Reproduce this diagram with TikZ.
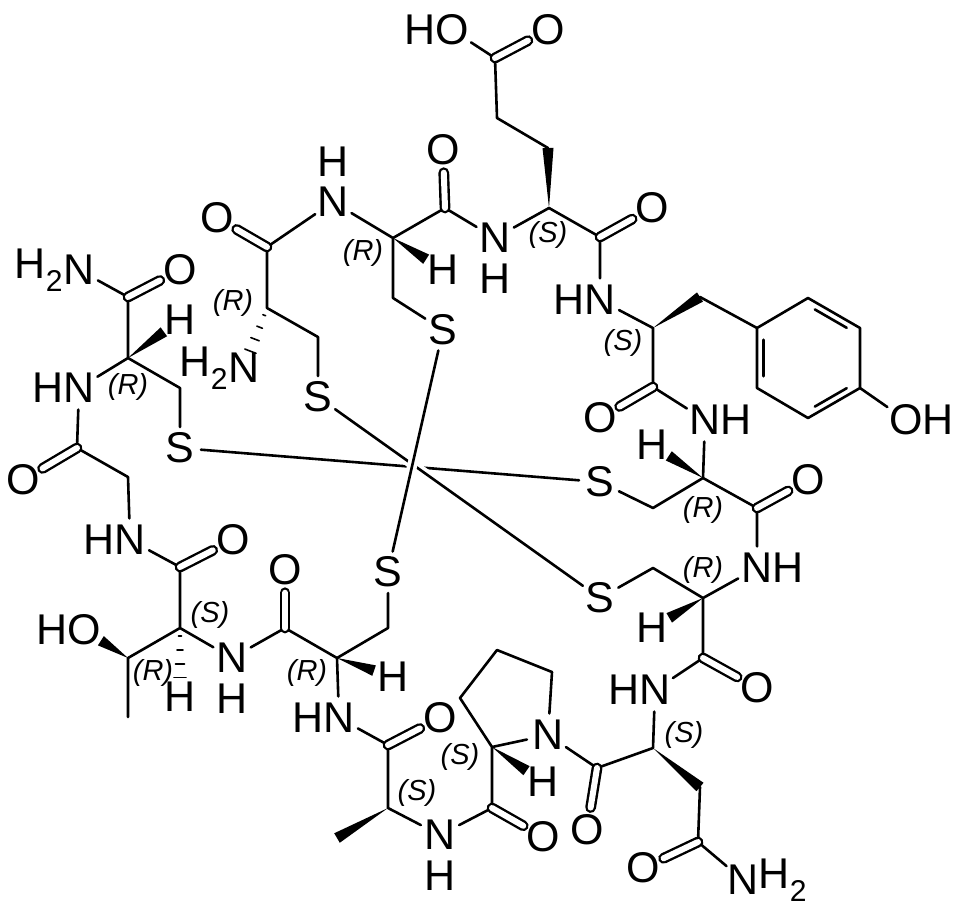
\documentclass[tikz,border=0pt]{standalone}
\usepackage{fontspec}
\setmainfont{Liberation Sans}
\usetikzlibrary{calc}

\tikzset{
  atom/.style={circle, inner sep=0pt, font=\fontsize{43}{45}\selectfont, label distance=-5pt},
  hlab/.style={inner sep=0pt, font=\fontsize{43}{45}\selectfont},
  hl/.style={label={[hlab, xshift=6pt]left:#1}},
  hr/.style={label={[hlab, xshift=-6pt]right:#1}},
  hb/.style={label={[hlab, yshift=-4pt]below:H}},
  ha/.style={label={[hlab, yshift=4pt]above:H}},
  stereo/.style={font=\fontsize{29}{30}\selectfont\itshape},
  bond/.style={line width=2.6pt},
  dbl/.style={double, double distance=6pt, line width=2.4pt},
  halo/.style={preaction={draw, white, line width=10pt}}
}
\newcommand\wdg[3][0pt]{\fill ($(#2)$) -- ($($(#3)!#1!(#2)$)!5.5pt!90:(#2)$) -- ($($(#3)!#1!(#2)$)!5.5pt!-90:(#2)$) -- cycle;}
\newcommand\hsh[2]{\foreach \t/\w in {0.12/1.5pt,0.32/3pt,0.52/4.5pt,0.72/6pt}
  {\draw[line width=1.6pt] ($($(#1)!\t!(#2)$)!\w!90:(#2)$) -- ($($(#1)!\t!(#2)$)!\w!-90:(#2)$);}}

\begin{document}
\begin{tikzpicture}[x=1pt, y=-1pt, line cap=round, line join=round]
  \useasboundingbox (0,0) rectangle (968,910);

  % hetero atoms
  \node[atom, hl=H] (oHO) at (452,30) {O};
  \node[atom] (oGlu1) at (548,30) {O};
  \node[atom, hb] (nGlu) at (495,238) {N};
  \node[atom] (oCysTop) at (443,150) {O};
  \node[atom] (hCysTop) at (443,270) {H};
  \node[atom, ha] (nCys) at (333,202) {N};
  \node[atom] (oCysN) at (217,218) {O};
  \node[atom, hl=H\textsubscript{2}] (nH2top) at (244,368) {N};
  \node[atom] (sA) at (443,330) {S};
  \node[atom] (sB) at (318,397) {S};
  \node[atom] (oGlu2) at (652,208) {O};
  \node[atom, hl=H] (nTyr) at (600,300) {N};
  \node[atom] (oTyr) at (600,418) {O};
  \node[atom, hr=H] (ohTyr) at (906,420) {O};
  \node[atom, hr=H] (nTyrNH) at (705,420) {N};
  \node[atom] (hCysR1) at (652,445) {H};
  \node[atom] (oCysR1) at (808,480) {O};
  \node[atom] (sC) at (600,482) {S};
  \node[atom, hr=H] (nCysR) at (757,568) {N};
  \node[atom] (sD) at (600,598) {S};
  \node[atom] (hCysR2) at (652,628) {H};
  \node[atom] (oCysR2) at (757,688) {O};
  \node[atom, hl=H] (nAsn) at (655,690) {N};
  \node[atom] (oAsn1) at (587,830) {O};
  \node[atom] (oAsn2) at (643,868) {O};
  \node[atom, hr=H\textsubscript{2}] (nAsnNH2) at (743,880) {N};
  \node[atom] (nPro) at (548,735) {N};
  \node[atom] (hPro) at (543,782) {H};
  \node[atom] (oPro) at (543,837) {O};
  \node[atom, hb] (nAla) at (440,835) {N};
  \node[atom] (oAla) at (440,718) {O};
  \node[atom, hl=H] (nCysL) at (339,718) {N};
  \node[atom] (hCysL) at (393,677) {H};
  \node[atom] (oCysL) at (285,570) {O};
  \node[atom] (sE) at (388,572) {S};
  \node[atom, hb] (nThr) at (232,658) {N};
  \node[atom] (hThr) at (180,697) {H};
  \node[atom, hl=H] (ohThr) at (84,630) {O};
  \node[atom] (oThr) at (233,540) {O};
  \node[atom, hl=H] (nGly) at (130,540) {N};
  \node[atom] (oGly) at (23,480) {O};
  \node[atom] (sF) at (180,448) {S};
  \node[atom, hl=H] (nCysLL) at (79,388) {N};
  \node[atom] (hCysLL) at (180,320) {H};
  \node[atom] (oCysLL) at (180,270) {O};
  \node[atom, hl=H\textsubscript{2}] (nH2LL) at (79,270) {N};

  % carbons
  \coordinate (cG1) at (495,58);   \coordinate (cG2) at (497,118);
  \coordinate (cG3) at (548,148);  \coordinate (caGlu) at (549,208);
  \coordinate (cGlu) at (600,237);
  \coordinate (cCysT) at (445,208); \coordinate (caCysT) at (393,238);
  \coordinate (cbCysT) at (393,298);
  \coordinate (cCysN) at (267,247); \coordinate (caCysN) at (267,308);
  \coordinate (cbCysN) at (318,337);
  \coordinate (caTyr) at (653,328); \coordinate (cbTyr) at (700,297);
  \coordinate (cTyr) at (653,387);
  \coordinate (r1) at (757,328); \coordinate (r2) at (808,298);
  \coordinate (r3) at (860,328); \coordinate (r4) at (860,388);
  \coordinate (r5) at (808,418); \coordinate (r6) at (757,388);
  \coordinate (rc) at (808,358);
  \coordinate (caCysR1) at (703,478); \coordinate (cbCysR1) at (653,508);
  \coordinate (cCysR1) at (757,508);
  \coordinate (caCysR2) at (703,598); \coordinate (cbCysR2) at (653,568);
  \coordinate (cCysR2) at (703,658);
  \coordinate (caAsn) at (653,748); \coordinate (cbAsn) at (700,787);
  \coordinate (cgAsn) at (698,842); \coordinate (cAsn) at (597,768);
  \coordinate (caPro) at (492,747); \coordinate (p1) at (460,698);
  \coordinate (p2) at (497,650);    \coordinate (p3) at (552,672);
  \coordinate (cPro) at (492,808);
  \coordinate (caAla) at (388,808); \coordinate (meAla) at (337,838);
  \coordinate (cAla) at (388,745);
  \coordinate (caCysL) at (337,658); \coordinate (cbCysL) at (388,628);
  \coordinate (cCysL) at (285,628);
  \coordinate (caThr) at (180,628); \coordinate (cbThr) at (128,658);
  \coordinate (meThr) at (128,717); \coordinate (cThr) at (180,567);
  \coordinate (chGly) at (128,477); \coordinate (cGly) at (77,448);
  \coordinate (caCysLL) at (128,358); \coordinate (cbCysLL) at (180,388);
  \coordinate (cCysLL) at (128,297);

  % stereo descriptors
  \node[stereo] (stGlu) at (548,235) {(S)};
  \node[stereo] (stCysT) at (363,253) {(R)};
  \node[stereo] (stCysN) at (233,303) {(R)};
  \node[stereo] (stCysLL) at (128,387) {(R)};
  \node[stereo] (stTyr) at (623,343) {(S)};
  \node[stereo] (stCysR1) at (703,510) {(R)};
  \node[stereo] (stCysR2) at (703,570) {(R)};
  \node[stereo] (stAsn) at (684,735) {(S)};
  \node[stereo] (stPro) at (460,757) {(S)};
  \node[stereo] (stAla) at (417,793) {(S)};
  \node[stereo] (stCysL) at (307,673) {(R)};
  \node[stereo] (stThrA) at (210,615) {(S)};
  \node[stereo] (stThrB) at (153,673) {(R)};

  % single bonds
  \draw[bond] (oHO) -- (cG1) -- (cG2) -- (cG3)
    (nGlu) -- (caGlu) -- (cGlu) -- (nTyr)
    (nGlu) -- (cCysT) -- (caCysT) -- (cbCysT) -- (sA)
    (caCysT) -- (nCys) -- (cCysN) -- (caCysN) -- (cbCysN) -- (sB)
    (nTyr) -- (caTyr) -- (cTyr) -- (nTyrNH) -- (caCysR1) -- (cbCysR1) -- (sC)
    (cbTyr) -- (r1)
    (r1) -- (r2) -- (r3) -- (r4) -- (r5) -- (r6) -- cycle
    (r4) -- (ohTyr)
    (caCysR1) -- (cCysR1) -- (nCysR) -- (caCysR2) -- (cbCysR2) -- (sD)
    (caCysR2) -- (cCysR2) -- (nAsn) -- (caAsn) -- (cAsn) -- (nPro)
    (cbAsn) -- (cgAsn) -- (nAsnNH2)
    (nPro) -- (p3) -- (p2) -- (p1) -- (caPro) -- (nPro)
    (caPro) -- (cPro) -- (nAla) -- (caAla) -- (cAla) -- (nCysL)
    (nCysL) -- (caCysL) -- (cbCysL) -- (sE)
    (caCysL) -- (cCysL) -- (nThr) -- (caThr) -- (cbThr) -- (meThr)
    (caThr) -- (cThr) -- (nGly) -- (chGly) -- (cGly) -- (nCysLL)
    (nCysLL) -- (caCysLL) -- (cbCysLL) -- (sF)
    (caCysLL) -- (cCysLL) -- (nH2LL);

  % aromatic inner lines
  \draw[bond] ($(r2)!0.15!(r3)!7pt!(rc)$) -- ($(r2)!0.85!(r3)!7pt!(rc)$)
    ($(r4)!0.15!(r5)!7pt!(rc)$) -- ($(r4)!0.85!(r5)!7pt!(rc)$)
    ($(r6)!0.15!(r1)!7pt!(rc)$) -- ($(r6)!0.85!(r1)!7pt!(rc)$);

  % double bonds
  \draw[dbl] (cG1) -- (oGlu1);  \draw[dbl] (cGlu) -- (oGlu2);
  \draw[dbl] (cCysT) -- (oCysTop); \draw[dbl] (cCysN) -- (oCysN);
  \draw[dbl] (cTyr) -- (oTyr);  \draw[dbl] (cCysR1) -- (oCysR1);
  \draw[dbl] (cCysR2) -- (oCysR2); \draw[dbl] (cAsn) -- (oAsn1);
  \draw[dbl] (cgAsn) -- (oAsn2); \draw[dbl] (cPro) -- (oPro);
  \draw[dbl] (cAla) -- (oAla);  \draw[dbl] (cCysL) -- (oCysL);
  \draw[dbl] (cThr) -- (oThr);  \draw[dbl] (cGly) -- (oGly);
  \draw[dbl] (cCysLL) -- (oCysLL);

  % wedges and hashes
  \wdg{caGlu}{cG3}
  \wdg[20pt]{caCysT}{hCysTop}
  \wdg{caTyr}{cbTyr}
  \wdg[20pt]{caCysR1}{hCysR1}
  \wdg[20pt]{caCysR2}{hCysR2}
  \wdg{caAsn}{cbAsn}
  \wdg[20pt]{caPro}{hPro}
  \wdg{caAla}{meAla}
  \wdg[20pt]{caCysL}{hCysL}
  \wdg[20pt]{cbThr}{ohThr}
  \wdg[20pt]{caCysLL}{hCysLL}
  \hsh{caCysN}{nH2top}
  \hsh{caThr}{hThr}

  % disulfide bridges
  \draw[bond] (sF) -- (sC);
  \draw[bond, halo] (sB) -- (sD);
  \draw[bond, halo] (sA) -- (sE);
\end{tikzpicture}
\end{document}
